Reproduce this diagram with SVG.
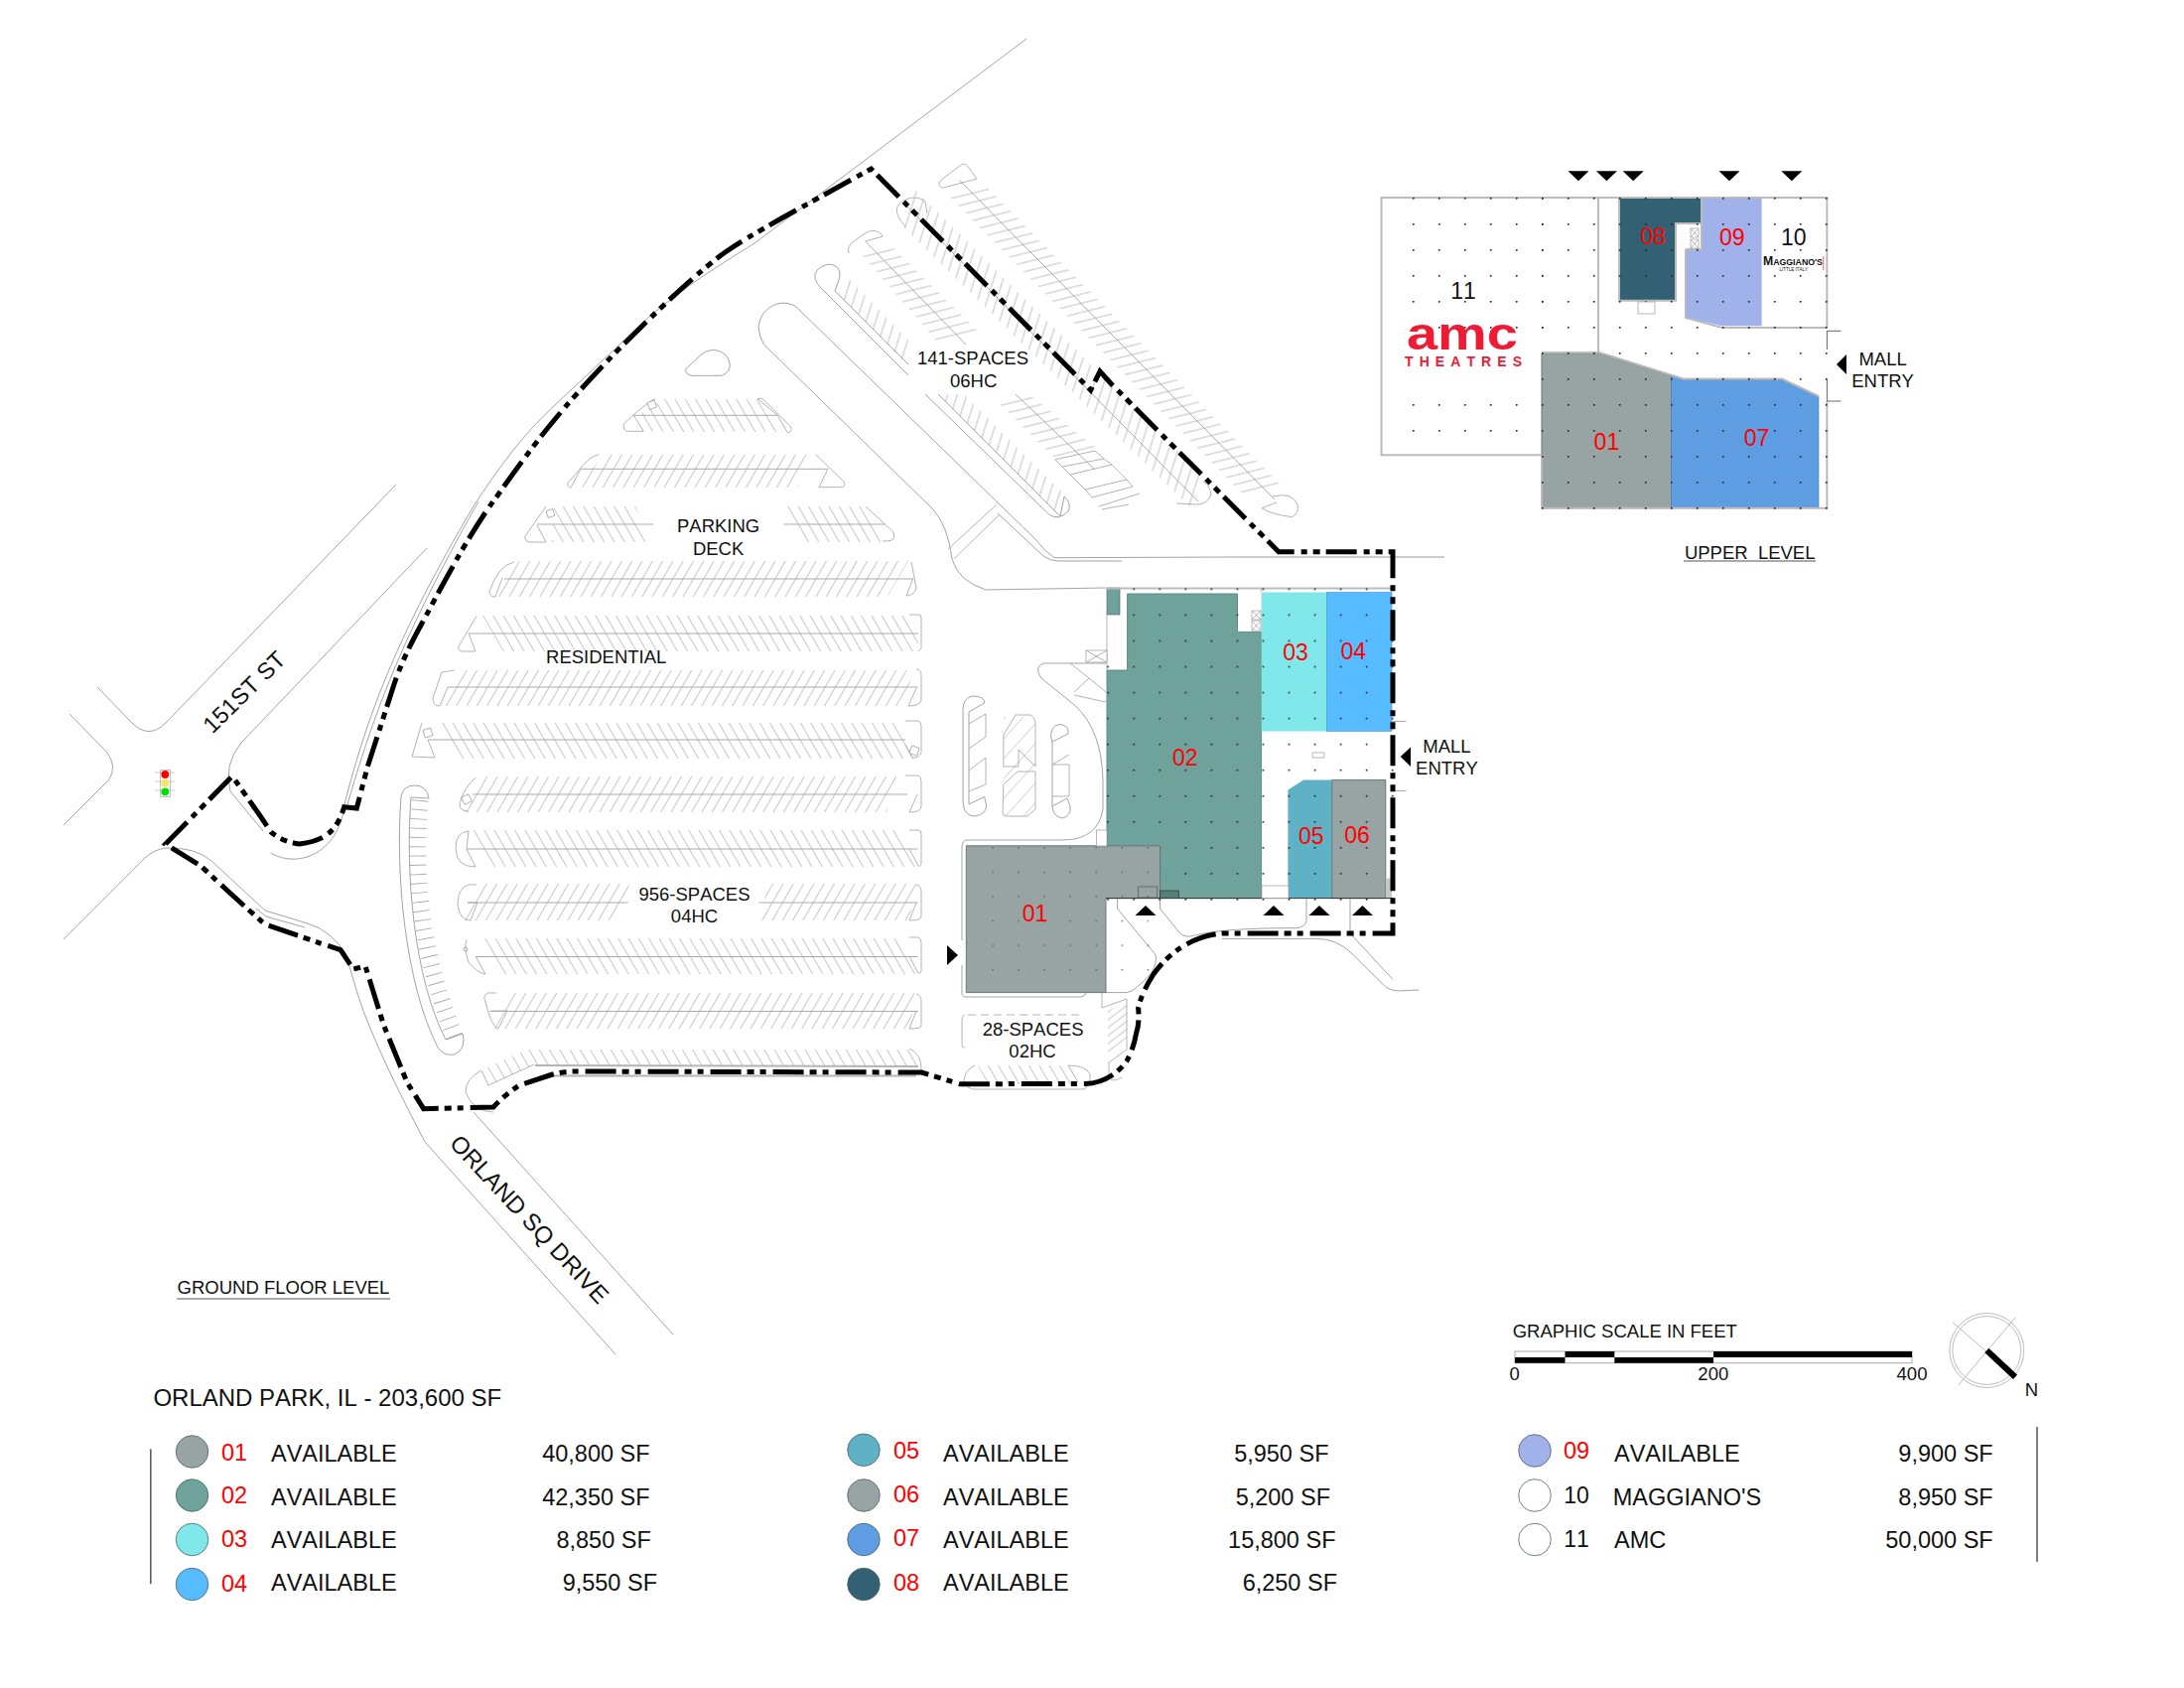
<svg xmlns="http://www.w3.org/2000/svg" width="2200" height="1700" viewBox="0 0 2200 1700">
<style>
text{font-family:"Liberation Sans",Arial,sans-serif;fill:#111;white-space:pre;font-kerning:none}
.t{font-size:18.5px;text-anchor:middle}
.n{font-size:23px;text-anchor:middle;fill:#f00}
.k{font-size:23px;text-anchor:middle;fill:#111}
.lg{font-size:23.5px}
.sf{font-size:23.5px;text-anchor:end}
.num{font-size:23.5px;text-anchor:middle;fill:#f00}
.r{fill:none;stroke:#999;stroke-width:.9}
.o{fill:none;stroke:#aaa;stroke-width:.9}
.c{fill:none;stroke:#aaa;stroke-width:1}
.w{fill:none;stroke:#bbb;stroke-width:2}
.g{fill:#98A3A4;stroke:#6a7678;stroke-width:1}
.cir{stroke:#4d5f66;stroke-width:.8}
.small{fill:#fff;stroke:#999;stroke-width:.7}
</style>
<defs>
<pattern id="bs" width="10.3" height="10" patternUnits="userSpaceOnUse" patternTransform="skewX(30)"><line x1="5" y1="0" x2="5" y2="10" stroke="#aaa" stroke-width=".75"/></pattern>
<pattern id="fs" width="10.3" height="10" patternUnits="userSpaceOnUse" patternTransform="skewX(-30)"><line x1="5" y1="0" x2="5" y2="10" stroke="#aaa" stroke-width=".75"/></pattern>
<pattern id="dh" width="10" height="9.2" patternUnits="userSpaceOnUse" patternTransform="skewY(-13.9)"><line x1="0" y1="4.6" x2="10" y2="4.6" stroke="#aaa" stroke-width=".75"/></pattern>
<pattern id="dv" width="9.6" height="10" patternUnits="userSpaceOnUse" patternTransform="skewX(-17.5)"><line x1="4.8" y1="0" x2="4.8" y2="10" stroke="#aaa" stroke-width=".75"/></pattern>
<pattern id="sc" width="10" height="8" patternUnits="userSpaceOnUse" patternTransform="skewY(-37)"><line x1="0" y1="4" x2="10" y2="4" stroke="#aaa" stroke-width=".75"/></pattern>
<pattern id="sd" width="10" height="20" patternUnits="userSpaceOnUse" patternTransform="skewY(-48)"><line x1="0" y1="7" x2="10" y2="7" stroke="#aaa" stroke-width=".75"/></pattern>
<pattern id="dots" width="26.05" height="26.05" patternUnits="userSpaceOnUse" patternTransform="translate(1115.3 592.5)"><circle cx="0.8" cy="0.8" r=".95" fill="#222"/></pattern>
<pattern id="dots1" width="26.05" height="24.6" patternUnits="userSpaceOnUse" patternTransform="translate(999.3 853)"><circle cx="0.8" cy="0.8" r=".8" fill="#555"/></pattern>
<pattern id="dotsU" width="26" height="26" patternUnits="userSpaceOnUse" patternTransform="translate(1422.9 199)"><circle cx="0.8" cy="0.8" r=".95" fill="#222"/></pattern>
</defs>
<rect width="2200" height="1700" fill="#fff"/>

<g id="roads">
<path class="r" d="M98 692L133 728Q150 745 167 728L399 488"/>
<path class="r" d="M70 719L108 758Q118 772 110 785L64 831"/>
<path class="r" d="M430 552L243 748Q225 770 232 797L265 837"/>
<path class="r" d="M272.7 859C300 875 340 860 347 812"/>
<path class="r" d="M347 810C370 720 400 640 478 508C510 460 530 435 560 407L623 348C670 300 720 270 760 245L1034 39"/>
<path class="r" d="M350 810C375 725 400 650 482 505"/>
<path class="r" d="M64 946L147 863Q157 855 167 854Q197 853 213 867L267 917L310 930Q333 937 348 960L357 990Q370 1040 428 1150L620 1364"/>
<path class="r" d="M258 915L268 923L307 934"/>
<path class="r" d="M477 1120L678 1344"/>
<path class="r" d="M806 313L1043 543Q1052 555 1062 561.7L1242 561"/>
<path class="r" d="M764 330C766 305 795 298 806 313M764 330Q765 340 769.6 347L940 513Q955 530 959 563Q965 585 993 594L1114 592"/>
<path class="r" d="M1005 517L1051 560Q1058 565 1066 565L1130 565"/>
<path class="w" style="stroke-width:1.5" d="M1242 561H1455"/>
<path class="o" d="M955 553L1003 509M961 563L1007 518"/>
<path class="r" d="M690.7 371.7Q690 376.7 696.7 378.3L726.7 378.3Q736.7 375 735 365Q731.7 353.3 718.3 352.3Q711.7 352.3 705 358.3Z"/>
<path class="r" d="M1114 668L1051 668Q1041 672 1049 683L1083.5 711Q1110 736 1111 786L1111 815Q1106 846 1070 846L974 846Q969 846 969 854L969 947M969 972L969 1001Q969 1004 974 1004L1089 1004Q1093 1003.5 1094 1000"/>
<path class="o" d="M1078 668L1097 683L1082 697M1097 683L1114 697M1082 700L1114 707"/>
<path class="r" d="M1125.6 905L1125.6 915L1164 961.5Q1166 968.6 1160 979.5Q1143 999 1135 999.6L1114 999.6"/>
<path class="r" d="M1168.5 905L1168.5 915L1188.7 940Q1194.5 945 1204 942Q1231 934.6 1307 934.6Q1315 933 1316 927.5L1316 905"/>
<path class="r" d="M1231 945.4L1326.5 945.4Q1346 945.4 1361 959.6L1395.4 993.5Q1401 997.9 1409 997.9L1429 997"/>
<path class="r" d="M1360 905L1360 940L1403 986.4"/>
<path class="r" d="M1403 726.4H1416.5M1403 796.4H1416.5"/>
</g>

<g id="parking-rows">
<polygon fill="url(#bs)" points="668,402 765,402 790,435 648,435 640,420"/>
<path class="c" d="M638.3 418.3H783.3"/>
<path class="o" d="M660 401.7Q657 401.7 638 418L628.3 427Q628 434 632 434.3L648.3 434.3L638.3 418.3M763.3 401.7Q767 400 770 403.3L796.7 430Q798 435.7 793.3 435.700L783.3 418.3L763.3 401.7"/>
<rect class="small" x="653" y="404" width="7.500" height="7.500" transform="rotate(-20 656.7 407.7)"/>
<polygon fill="url(#fs)" points="608,458 818,458 803,491 582,491"/>
<path class="c" d="M585 472.3H834"/>
<path class="o" d="M603.3 457.7Q593 460 583.3 473.3L571.7 486.7Q571.7 491 575 491L585 472.3M821.7 457.7L850 485Q852.7 491 846.7 490.7L825 490.7L834 472.3"/>
<polygon fill="url(#bs)" points="558,510 640,510 655,546 556,546"/>
<polygon fill="url(#bs)" points="787,510 872,510 891,546 807,546"/>
<path class="c" d="M541 528H658M789.5 528H891"/>
<path class="o" d="M550 510L529 540Q528 546 535 546L550 546L541 529M872 510L900 536Q903 545 893 545L889 545"/>
<rect class="small" x="551" y="513.500" width="7" height="7" transform="rotate(-20 554.500 517)"/>
<polygon fill="url(#fs)" points="522,565 915,565 894,601 501,601"/>
<path class="c" d="M508 583H920"/>
<path class="o" d="M518 566Q502 569 493 596Q493 601 499 601L506 582M918 566L923 592Q921 600 913 600L920 582"/>
<polygon fill="url(#bs)" points="486,620 915,620 925,638 925,656 507,656"/>
<path class="c" d="M472 638H925"/>
<path class="o" d="M480 620.500L462 651Q461 656 466 656L479 656L472 638M916 619L925 619Q928 619 928 622L928 653L925 656"/>
<polygon fill="url(#fs)" points="462,675 920,675 910,711 441,711"/>
<path class="c" d="M451 692H924.600"/>
<path class="o" d="M458 675L445 677L436 703Q436 711 443 711L451 692M923 674Q928 674 928 680L928 705Q927 711 915 711L923 693"/>
<polygon fill="url(#bs)" points="440,728 900,728 921,764 461,764"/>
<path class="c" d="M431 745H912"/>
<path class="o" d="M425 728L415 762L438 763L431 745M912 726L925 726Q928 727 928 731L928 758Q925 764 919 763L912 750"/>
<rect class="small" x="427" y="734" width="8" height="8" transform="rotate(-18 431 738)"/>
<rect class="small" x="917" y="752" width="8" height="8" transform="rotate(20 921 756)"/>
<polygon fill="url(#fs)" points="486,782 904,782 893,818 465,818"/>
<path class="c" d="M476 800H914"/>
<path class="o" d="M479 783Q466 795 463 810Q463 817 472 817M912 781L925 781Q928 782 928 787L928 812Q928 818 916 818L924 800"/>
<rect class="small" x="466" y="801" width="8" height="8" transform="rotate(-25 470 805)"/>
<polygon fill="url(#bs)" points="473,836 905,836 925,873 494,873"/>
<path class="c" d="M470 855H924.600"/>
<path class="o" d="M472 837Q459 838 459 854Q459 873 479 873L470 855L472 837M916 836L925 836Q928 836 928 840L928 869Q928 873 925 872L916 855"/>
<polygon fill="url(#fs)" points="488,890 634,890 623,927 467,927"/>
<polygon fill="url(#fs)" points="774,890 925,890 915,927 765,927"/>
<path class="c" d="M471 909H632.600M764.600 909H924.600"/>
<path class="o" d="M480 891L472 891Q461 894 461 911Q463 927 474 927L481 909L471 909M923 891Q928 892 928 898L928 923Q928 927 916 927L923 909"/>
<polygon fill="url(#bs)" points="482,945 905,945 925,981 503,981"/>
<path class="c" d="M479.500 963.500H924.600"/>
<path class="o" d="M470 946Q467 955 472 969Q481 980 489 981L479 963M916 944L925 944Q928 945 928 949L928 978Q927 981 925 980L916 963"/>
<circle class="o" cx="469" cy="956" r="2"/>
<polygon fill="url(#fs)" points="515,1000 925,1000 915,1036 494,1036"/>
<path class="c" d="M493 1018.500H924.600"/>
<path class="o" d="M500 1000L491 1000Q486 1003 489 1009Q495 1034 502 1036L511 1018L495 1018M923 1001Q928 1002 928 1008L928 1033Q928 1036 916 1036L923 1018"/>
<polygon fill="url(#bs)" points="530,1057 916,1057 925,1073 539,1073"/>
<polygon fill="url(#bs)" points="485,1078 530,1057 538,1072 492,1093"/>
<path class="o" d="M916 1056Q929 1062 928 1078M485 1078Q469 1086 469 1100Q477 1120 497 1120M485 1078L492 1093L538 1072"/>
<path d="M539 1073L925 1074M550 1083.600H923" fill="none" stroke="#b4b4b4" stroke-width="2"/>
<path fill="none" stroke="#aaa" stroke-width="17" stroke-dasharray=".9 8.400" d="M423 806C417 870 420 950 458 1044"/>
<path class="r" d="M404 802C398 880 408 990 441 1055Q447 1064 458 1062Q470 1056 466 1041L449 1047C417 985 408 880 414 803L432 804Q430 791 418 791Q406 791 404 802Z"/>
<polygon fill="url(#dh)" points="955,196.700 993,187.300 1293,491.300 1255,500.700"/>
<path class="c" d="M966.700 181.700L1284 503"/>
<path class="o" d="M947.500 181.700L968.600 165.700Q972 164 974.300 166.700L984 180L949.400 189.300Q943.700 186.700 947.500 181.700Z"/>
<path class="o" d="M1286 506L1271 511.700Q1280.500 518 1301.500 520.700Q1309 516.700 1307 508.300Q1301.500 495 1282 500"/>
<polygon fill="url(#dh)" points="865,253.300 896.700,246.700 986.700,335 945,345"/>
<path class="c" d="M871.700 243L973 347M1023 397L1103 473"/>
<polygon fill="url(#dh)" points="1003,403 1036.700,396.700 1105,452 1063,462"/>
<path class="o" d="M855 255Q853 248 860 243L873 234Q882 230 888 236L889 238L871.700 243"/>
<polygon fill="url(#dv)" points="907,226 919,188 1212,480 1200,512"/>
<path class="c" d="M913 207L1207 505"/>
<path class="o" d="M912 228C900 215 900 205 915 200Q925 197 932 203L934 215"/>
<path class="o" d="M1185 507L1207 508Q1218 507 1220 497Q1218 488 1212 485"/>
<polygon fill="url(#dv)" points="846,297 910,364 917,345 853,278"/>
<polygon fill="url(#dv)" points="948,400 1066,518 1073,499 971,397 951,397"/>
<path class="r" d="M827 290Q817 280 823 272Q833 263 842 268Q848 273 845 282L841 293L915 367M827 290L915 378M932 397L1056.600 518Q1066 525 1076 515Q1080 507 1072 500L1068 520L945 397"/>
<path class="o" d="M1063 462.700L1103 454L1112 462L1070 470ZM1070 470L1078 478L1120 468L1112 462M1078 478L1093 493L1135 483L1120 468M1093 493L1100 501L1141 490L1135 483M1107 510L1148 497M1110 513L1137 508"/>
<path class="r" d="M980 701Q970 702.500 970 715L970 808Q971 822 982 822Q993.600 820 993.600 811L991.700 802.500L976 810L976 717L991.700 708Q991.700 701 980 701Z"/>
<path class="o" d="M976 729L993 719L993 742L976 754M976 776L993 763L993 790L976 797"/>
<path class="o" d="M1010.800 740L1023 720H1037.600Q1043 722 1043 730V772L1026 755V772H1010.800ZM1010.800 790L1025 777H1043V815L1035 822H1014Q1010 822 1010 818Z"/>
<rect x="1011" y="722" width="32" height="100" fill="url(#sd)"/>
<path class="r" d="M1076 739Q1077 730 1067 729.500Q1058.600 731 1058.600 742L1060 747L1060 805Q1058 822 1070 824Q1079 822 1078 812L1075 804L1060 812M1060 747L1076 739"/>
<path class="o" d="M1060 770H1077V802H1060M1060 770L1077 760"/>
<polygon fill="url(#bs)" points="985,1073 1076,1073 1086,1092 995,1092"/>
<path class="o" d="M982 1073Q971 1078 971 1090Q975 1097 982 1097L1092 1097Q1099 1093 1098 1082Q1094 1073 1076 1073L1086 1090"/>
<polygon fill="url(#sc)" points="1116,1018 1135,1008 1135,1045 1116,1065"/>
<path class="o" d="M1110 1000V1015L1135 1006V1057L1117 1070V1085Q1120 1091 1130 1085"/>
<path class="o" stroke-dasharray="8 5" d="M975 1022H1090"/>
<path class="o" d="M972 1022Q969 1022 969 1028V1052Q969 1055 972 1055"/>
</g>

<g id="ground-floor">
<rect x="1115" y="592" width="13" height="27" fill="#6FA29B" stroke="#557" stroke-width=".6"/>
<path id="unit-02" fill="#6FA29B" stroke="#5f8a85" d="M1135.600 598H1246.500V636.400H1270.600V904.600H1168.500V852.500H1115V675H1135.600Z"/>
<polygon id="unit-03" fill="#80E8EB" points="1270.600,596.400 1336.500,596.400 1336.500,736.400 1270.600,736.400"/>
<polygon id="unit-04" fill="#56BCFF" stroke="#3d8fc4" stroke-width=".6" points="1336.500,596.400 1402,596.400 1402,736.400 1336.500,736.400"/>
<polygon id="unit-05" fill="#5FB1C5" points="1297.400,795.400 1313,785.400 1341.800,785.400 1341.800,904.600 1297.400,904.600"/>
<polygon id="unit-06" class="g" points="1341.800,785.400 1395.800,785.400 1395.800,904.600 1341.800,904.600"/>
<rect x="1396" y="884.600" width="6" height="20" fill="#c8c8c8"/>
<path class="w" d="M1115 592.500H1403"/>
<path d="M1115 619V675M1270.600 592V596" class="o"/>
<rect x="1113" y="660" width="292" height="247" fill="url(#dots)"/>
<rect x="1138" y="590" width="267" height="72" fill="url(#dots)"/>
<path id="unit-01" class="g" stroke-width="1.2" d="M973.300 851.800H1168.500V904.600H1114V999.600H973.300Z"/>
<rect x="985" y="851" width="183" height="148" fill="url(#dots1)"/>
<path d="M1114 904.600H1403" stroke="#333" stroke-width="1"/>
<rect class="small" x="1094" y="655" width="21" height="12"/>
<path class="o" d="M1094 655L1115 667M1115 655L1094 667"/>
<rect class="small" x="1104.600" y="836" width="10.400" height="16"/>
<rect class="small" x="1261" y="615" width="9" height="9"/>
<rect class="small" x="1261" y="625" width="9" height="10"/>
<path class="o" d="M1261 615L1270 624M1270 615L1261 624M1261 625L1270 635M1270 625L1261 635"/>
<rect class="small" x="1322" y="758" width="12" height="5"/>
<rect fill="none" stroke="#555" stroke-width=".7" x="1146.700" y="893" width="19" height="11"/>
<rect fill="#557f7a" stroke="#333" stroke-width=".7" x="1168.500" y="897" width="19" height="7.600"/>
<rect class="small" x="1271" y="892" width="27" height="12.600"/>
<path d="M1154 912L1143.500 922H1164.500ZM1283 912L1272.500 922H1293.500ZM1329 912L1318.500 922H1339.500ZM1372.400 912L1362 922H1383Z" fill="#000"/>
<path d="M954 952V972L965 962Z" fill="#000"/>
<path d="M1410.700 762L1421 752.500V772Z" fill="#000"/>
</g>

<g id="upper-level">
<polygon id="u-01" class="g" stroke-width=".6" points="1553,355.700 1611,355.700 1683.500,378.300 1683.500,511.700 1553,511.700"/>
<polygon id="u-07" fill="#5F9DE3" stroke="#4a7fb8" stroke-width=".6" points="1683.500,378.300 1695.700,381.700 1795.200,381.700 1832,399 1832,511.700 1683.500,511.700"/>
<polygon id="u-08" fill="#336173" points="1631.400,199 1714,199 1714,225 1688,225 1688,302.700 1631.400,302.700"/>
<polygon id="u-09" fill="#A1B1EA" points="1714.900,199 1774.600,199 1774.600,328.300 1734.700,328.300 1698.800,320 1698.800,251.700 1714.900,251.700"/>
<path class="w" d="M1840.400 330V199H1391.500V458.300H1553M1610 199V355M1553 355L1611 355L1695.700 381.500H1795.200L1832 399M1734.700 330H1840.400M1734.700 330L1698 320V251M1698 251H1714V199M1631 199V302.700H1688V225H1714M1840.400 404V511.700H1553V458"/>
<path fill="none" stroke="#666" stroke-width="1" d="M1840.400 333.300H1854.500M1840.400 333.300V352M1840.400 382V404H1854.500"/>
<rect x="1415" y="195" width="140" height="136" fill="url(#dotsU)"/>
<rect x="1415" y="400" width="138" height="40" fill="url(#dotsU)"/>
<rect x="1553" y="195" width="292" height="320" fill="url(#dotsU)"/>
<rect class="small" x="1703" y="230" width="8" height="9"/>
<rect class="small" x="1703" y="241" width="8" height="9"/>
<rect class="small" x="1650" y="304" width="17" height="12"/>
<path class="o" d="M1703 230L1711 239M1711 230L1703 239M1703 241L1711 250M1711 241L1703 250"/>
<path d="M1590 182.300L1579.500 172.300H1600.500ZM1618.400 182.300L1607.900 172.300H1628.900ZM1645.200 182.300L1634.700 172.300H1655.700ZM1742 182.300L1731.500 172.300H1752.500ZM1804.800 182.300L1794.300 172.300H1815.300Z" fill="#000"/>
<path d="M1850 367L1860 357V377Z" fill="#000"/>
<text x="1473" y="352" font-size="46" font-weight="700" textLength="112" lengthAdjust="spacingAndGlyphs" text-anchor="middle" style="fill:#ED1C34">amc</text>
<text x="1415" y="369.300" font-size="14" font-weight="700" textLength="118" style="fill:#ED1C34">THEATRES</text>
<text x="1776" y="266.700" font-size="9" font-weight="700" textLength="60" lengthAdjust="spacingAndGlyphs"><tspan font-size="12.500">M</tspan>AGGIANO'S</text>
<text x="1806.700" y="272.700" font-size="4.500" text-anchor="middle">LITTLE ITALY</text>
<path d="M1836.700 258V272" stroke="#f00" stroke-width=".6"/>
<text class="n" x="1665" y="246">08</text>
<text class="n" x="1744.700" y="247">09</text>
<text class="k" x="1806.700" y="247">10</text>
<text class="k" x="1474" y="300.700">11</text>
<text class="n" x="1618.400" y="452.700">01</text>
<text class="n" x="1769.600" y="449">07</text>
<text class="t" x="1896.600" y="368">MALL</text>
<text class="t" x="1896.600" y="390">ENTRY</text>
<text class="t" x="1762.700" y="562.700">UPPER  LEVEL</text>
<path d="M1696 565H1829" stroke="#555" stroke-width="1"/>
</g>

<g id="boundary">
<path fill="none" stroke="#000" stroke-width="5" stroke-linejoin="miter" stroke-dasharray="31 7 6 6 7 6" d="M166.700 850L234 781.700L263 823L273 838Q285 848 301.700 850Q320 848 330 840Q341 832 346.700 812.700L359.300 814L370 773L396.700 690Q405 665 420 637C435 610 470 540 500.500 500C520 472 540 445 560 421C580 397 600 376 620 355C650 325 690 285 725 258C745 243 770 230 790.600 218L877.500 170L1098.700 393L1108 374L1119.700 387L1288 555.700H1403V940H1231Q1210 942 1192.600 952.500Q1175 963 1162 981Q1150 1000 1146.600 1015Q1148 1030 1144.700 1040Q1142 1056 1135 1068.600Q1128 1078 1120 1083Q1108 1091 1093 1091.500L967 1091.700L928.500 1080L579 1079Q566 1079 553.500 1083Q538 1088 523 1093Q508 1103 497 1115L426.700 1116.700L410 1090L386.700 1033L368 973L356 976L343 956.700L316.700 948L266.700 930.700L246.700 913L201.700 871.700L166.700 850Z"/>
</g>

<g id="labels">
<text class="n" x="1193.700" y="771.400">02</text>
<text class="n" x="1305" y="665">03</text>
<text class="n" x="1363.300" y="664">04</text>
<text class="n" x="1320.800" y="850">05</text>
<text class="n" x="1367" y="849.300">06</text>
<text class="n" x="1042.600" y="928">01</text>
<text class="t" x="1457.400" y="757.900">MALL</text>
<text class="t" x="1457.400" y="780">ENTRY</text>
<text class="t" x="723.600" y="536.400">PARKING</text>
<text class="t" x="723.600" y="558.500">DECK</text>
<text class="t" x="610.700" y="668.400">RESIDENTIAL</text>
<text class="t" x="699.500" y="906.800">956-SPACES</text>
<text class="t" x="699.500" y="929">04HC</text>
<text class="t" x="980" y="367.300">141-SPACES</text>
<text class="t" x="980.700" y="390">06HC</text>
<text class="t" x="1040.600" y="1042.900">28-SPACES</text>
<text class="t" x="1040" y="1065">02HC</text>
<text text-anchor="middle" font-size="23.500" transform="translate(246 697) rotate(-44.500)" y="8">151ST ST</text>
<text text-anchor="middle" font-size="24" transform="translate(533 1228) rotate(47)" y="8">ORLAND SQ DRIVE</text>
<text class="t" x="285.500" y="1303">GROUND FLOOR LEVEL</text>
<path d="M178 1308H393" stroke="#555" stroke-width="1"/>
</g>

<g id="signal">
<rect x="161.700" y="775.700" width="10" height="26.600" fill="none" stroke="#aaa" stroke-width=".8"/>
<path d="M156 778H176M156 787H176M156 796H176" stroke="#aaa" stroke-width=".6"/>
<circle cx="166.300" cy="780" r="3.900" fill="#f00"/>
<circle cx="166.300" cy="788.700" r="3.900" fill="#f3e56a"/>
<circle cx="166.300" cy="797.300" r="3.900" fill="#0d0"/>
</g>

<g id="scale">
<text x="1523.700" y="1346.700" font-size="18.500">GRAPHIC SCALE IN FEET</text>
<rect x="1526" y="1361" width="400" height="11.700" fill="#fff" stroke="#aaa" stroke-width="1"/>
<path d="M1526 1367H1576.500V1372.700H1526ZM1576.500 1361H1626.300V1367H1576.500ZM1626.300 1367H1726V1372.700H1626.300ZM1726 1361H1926V1367H1726Z" fill="#000"/>
<text class="t" x="1525.600" y="1390">0</text>
<text class="t" x="1725.800" y="1390">200</text>
<text class="t" x="1926" y="1390">400</text>
<circle cx="2001.300" cy="1360" r="37.500" fill="none" stroke="#bbb" stroke-width="1"/>
<circle cx="2001.300" cy="1360" r="34.500" fill="none" stroke="#bbb" stroke-width="1"/>
<path d="M1967 1331.700L2030 1386.700M2030 1327L1972.600 1395" stroke="#bbb" stroke-width="1"/>
<path d="M2001.300 1360L2030 1386.700" stroke="#000" stroke-width="6"/>
<text class="t" x="2046.500" y="1406">N</text>
</g>

<g id="legend">
<text x="154.400" y="1415.500" font-size="24">ORLAND PARK, IL - 203,600 SF</text>
<path d="M151.800 1459.300V1595M2052 1437V1573" stroke="#555" stroke-width="1.500"/>
<g id="legend-01"><circle class="cir" cx="193.500" cy="1462" r="16.300" fill="#98A3A4"/><text class="num" x="236" y="1471">01</text><text class="lg" x="273" y="1472">AVAILABLE</text><text class="sf" x="654.600" y="1472">40,800 SF</text></g>
<g id="legend-02"><circle class="cir" cx="193.500" cy="1506" r="16.300" fill="#6FA29B"/><text class="num" x="236" y="1514">02</text><text class="lg" x="273" y="1515.500">AVAILABLE</text><text class="sf" x="654.600" y="1515.500">42,350 SF</text></g>
<g id="legend-03"><circle class="cir" cx="193.500" cy="1550.500" r="16.300" fill="#80E8EB"/><text class="num" x="236" y="1558">03</text><text class="lg" x="273" y="1558.500">AVAILABLE</text><text class="sf" x="655.800" y="1558.500">8,850 SF</text></g>
<g id="legend-04"><circle class="cir" cx="193.500" cy="1595.500" r="16.300" fill="#56BCFF"/><text class="num" x="236" y="1602.500">04</text><text class="lg" x="273" y="1601.500">AVAILABLE</text><text class="sf" x="662" y="1601.500">9,550 SF</text></g>
<g id="legend-05"><circle class="cir" cx="870" cy="1460.300" r="16.300" fill="#5FB1C5"/><text class="num" x="913" y="1469">05</text><text class="lg" x="950" y="1472">AVAILABLE</text><text class="sf" x="1338.500" y="1472">5,950 SF</text></g>
<g id="legend-06"><circle class="cir" cx="870" cy="1506" r="16.300" fill="#98A3A4"/><text class="num" x="913" y="1513">06</text><text class="lg" x="950" y="1515.500">AVAILABLE</text><text class="sf" x="1340" y="1515.500">5,200 SF</text></g>
<g id="legend-07"><circle class="cir" cx="870" cy="1550.500" r="16.300" fill="#5F9DE3"/><text class="num" x="913" y="1557">07</text><text class="lg" x="950" y="1558.500">AVAILABLE</text><text class="sf" x="1345.500" y="1558.500">15,800 SF</text></g>
<g id="legend-08"><circle class="cir" cx="870" cy="1595.500" r="16.300" fill="#336173"/><text class="num" x="913" y="1602">08</text><text class="lg" x="950" y="1601.500">AVAILABLE</text><text class="sf" x="1347" y="1601.500">6,250 SF</text></g>
<g id="legend-09"><circle class="cir" cx="1546" cy="1461" r="16.300" fill="#A1B1EA"/><text class="num" x="1588" y="1469">09</text><text class="lg" x="1626" y="1472">AVAILABLE</text><text class="sf" x="2007.700" y="1472">9,900 SF</text></g>
<g id="legend-10"><circle class="cir" cx="1546" cy="1506" r="16.300" fill="#fff"/><text class="k" x="1588" y="1513.500">10</text><text class="lg" x="1624.700" y="1515.500">MAGGIANO'S</text><text class="sf" x="2007.700" y="1515.500">8,950 SF</text></g>
<g id="legend-11"><circle class="cir" cx="1546" cy="1550.500" r="16.300" fill="#fff"/><text class="k" x="1588" y="1558">11</text><text class="lg" x="1626" y="1558.500">AMC</text><text class="sf" x="2007.700" y="1558.500">50,000 SF</text></g>
</g>
</svg>
